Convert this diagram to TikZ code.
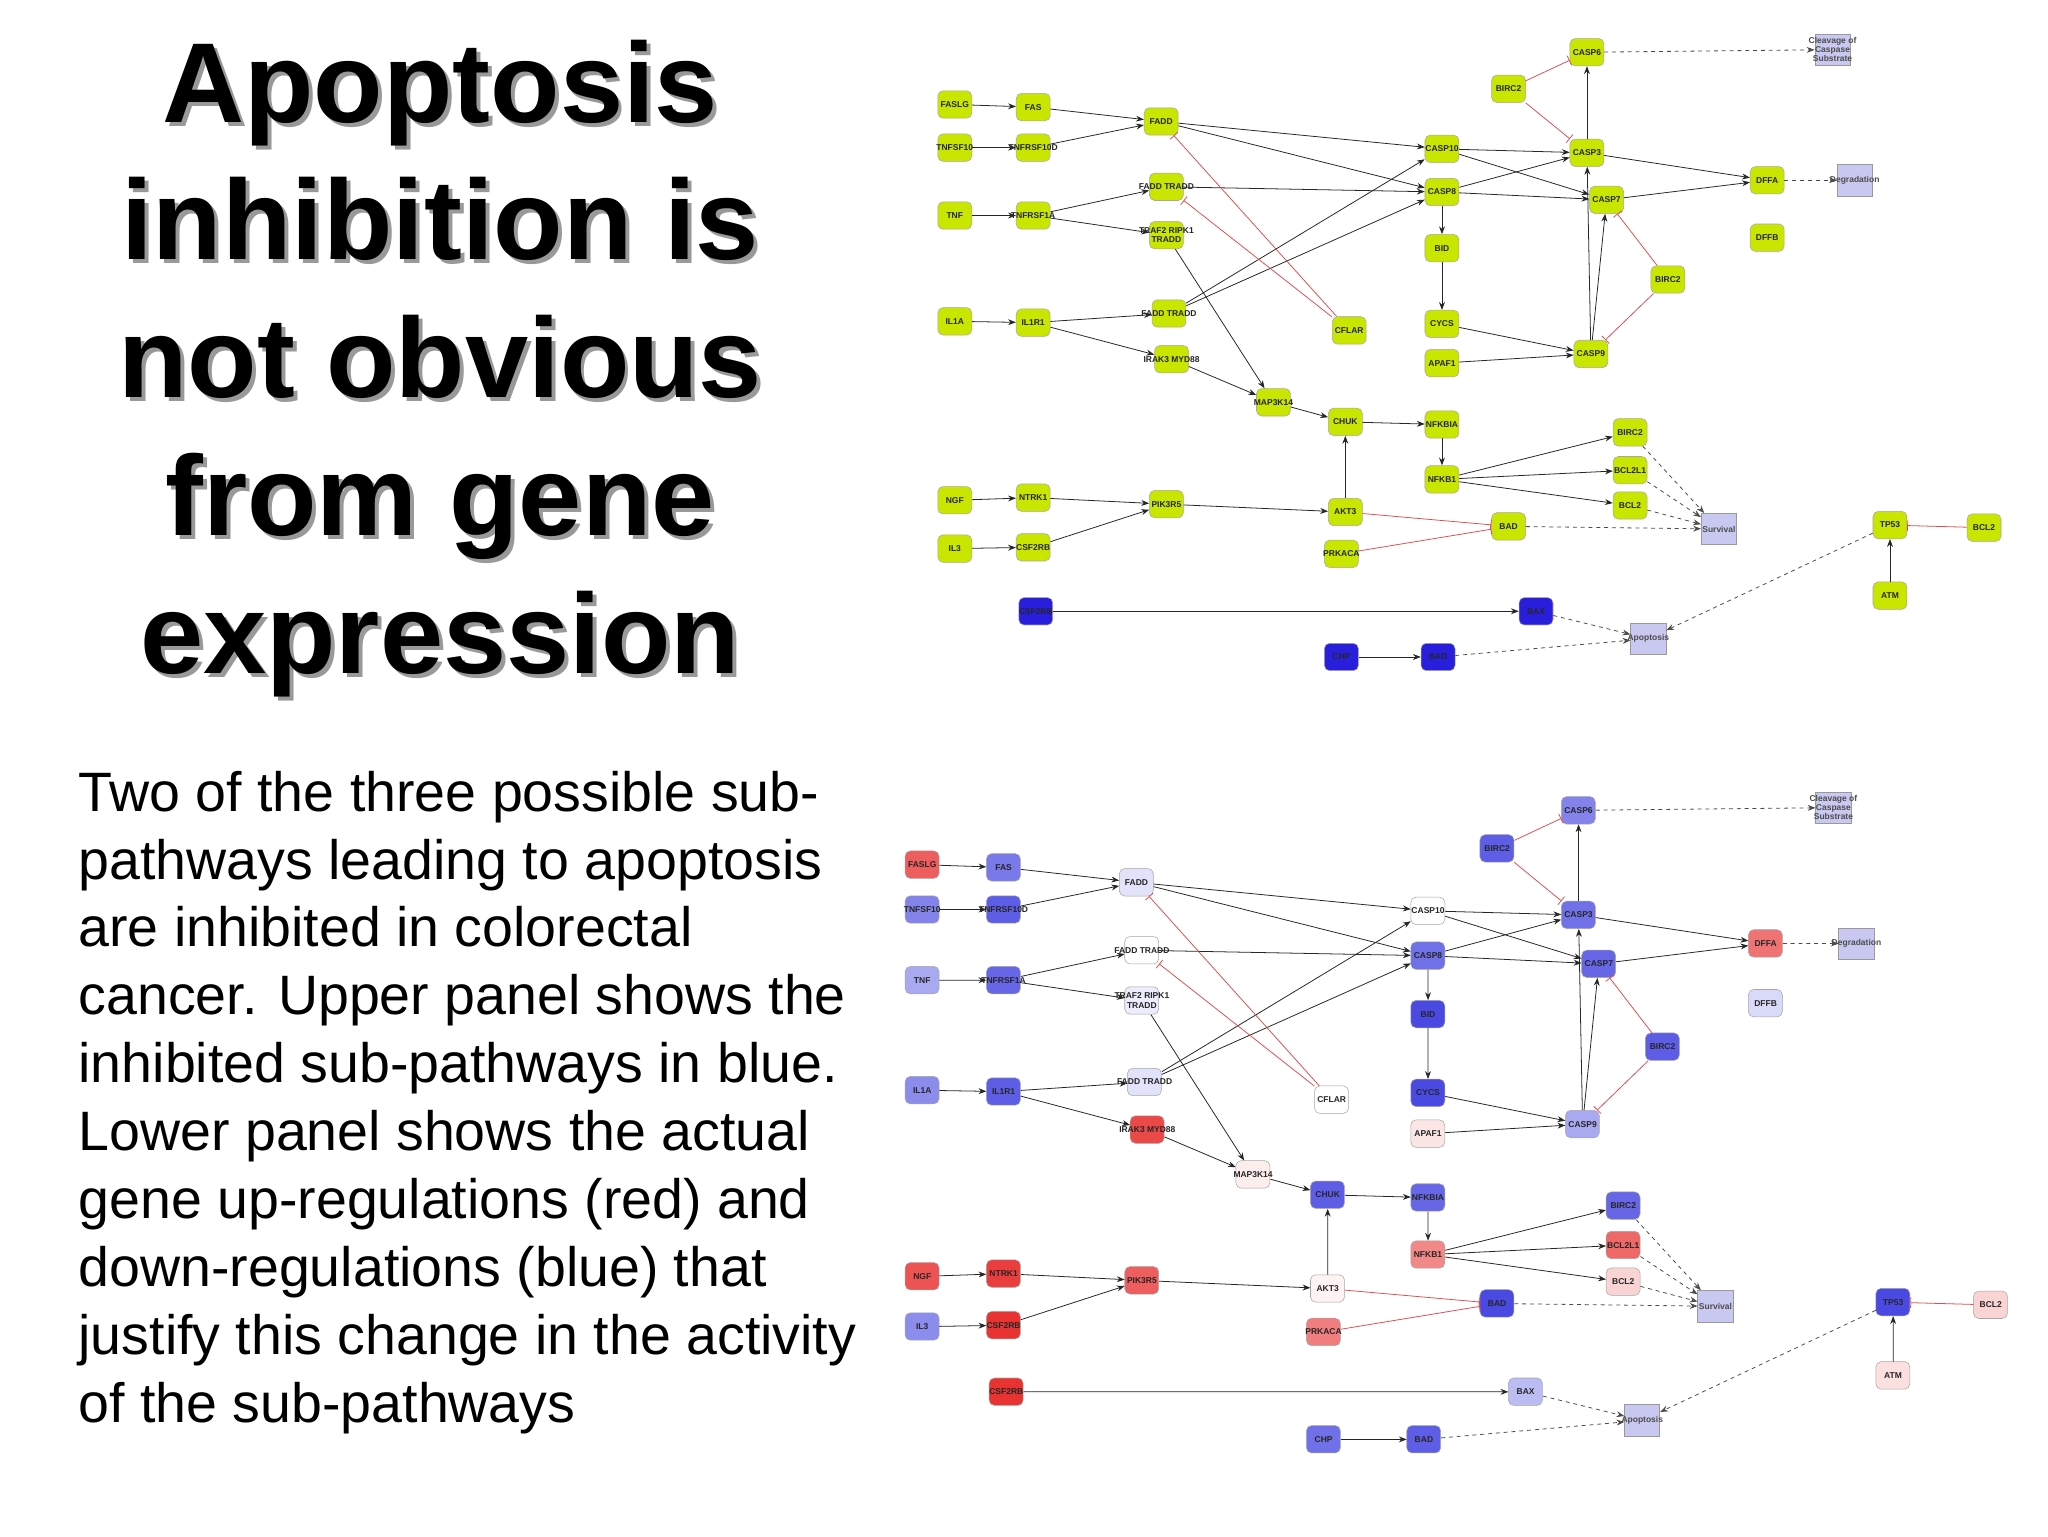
\documentclass[tikz,border=0pt]{standalone}
\usepackage{fontspec}
\setmainfont{Liberation Sans}
\usetikzlibrary{arrows.meta}
\definecolor{yg}{RGB}{200,230,0}
\definecolor{bb}{RGB}{40,30,220}
\definecolor{bl}{RGB}{64,64,224}
\definecolor{rd}{RGB}{232,40,40}
\definecolor{sq}{RGB}{200,200,240}
\definecolor{inhc}{RGB}{220,80,80}
\newif\ifbot
\newcommand\N[6]{\ifbot\def\cc{#6}\else\def\cc{#5}\fi\node[nd,fill=\cc,label={[lab]center:#4}] (#1) at (#2,#3) {};}
\newcommand\Q[4]{\node[sqn,label={[lab,text=black!70]center:#4}] (#1) at (#2,#3) {};}
\newcommand\net{%
\N{FASLG}{731}{80}{FASLG}{yg}{rd!75}
\N{FAS}{791}{82}{FAS}{yg}{bl!70}
\N{TNFSF}{731}{113}{TNFSF10}{yg}{bl!65}
\N{TNFR10}{791}{113}{TNFRSF10D}{yg}{bl!85}
\N{TNF}{731}{165}{TNF}{yg}{bl!45}
\N{TNFR1A}{791}{165}{TNFRSF1A}{yg}{bl!80}
\N{IL1A}{731}{246}{IL1A}{yg}{bl!60}
\N{IL1R1}{791}{247}{IL1R1}{yg}{bl!85}
\N{NGF}{731}{383}{NGF}{yg}{rd!80}
\N{NTRK1}{791}{381}{NTRK1}{yg}{rd!90}
\N{IL3}{731}{420}{IL3}{yg}{bl!60}
\N{CSF}{791}{419}{CSF2RB}{yg}{rd!95}
\N{FADD}{889}{93}{FADD}{yg}{bl!15}
\N{FT1}{893}{143}{FADD TRADD}{yg}{white}
\N{TRAF}{893}{180}{TRAF2 RIPK1\\TRADD}{yg}{bl!10}
\N{FT2}{895}{240}{FADD TRADD}{yg}{bl!15}
\N{IRAK}{897}{275}{IRAK3 MYD88}{yg}{rd!85}
\N{MAP}{975}{308}{MAP3K14}{yg}{rd!8}
\N{CHUK}{1030}{323}{CHUK}{yg}{bl!85}
\N{NFKBIA}{1104}{325}{NFKBIA}{yg}{bl!80}
\N{NFKB1}{1104}{367}{NFKB1}{yg}{rd!55}
\N{AKT3}{1030}{392}{AKT3}{yg}{rd!6}
\N{PRKACA}{1027}{424}{PRKACA}{yg}{rd!60}
\N{PIK}{893}{386}{PIK3R5}{yg}{rd!75}
\N{BAD}{1155}{403}{BAD}{yg}{bl!95}
\N{BIRCa}{1248}{331}{BIRC2}{yg}{bl!80}
\N{BCLX}{1248}{360}{BCL2L1}{yg}{rd!70}
\N{BCLa}{1248}{387}{BCL2}{yg}{rd!20}
\N{C10}{1104}{114}{CASP10}{yg}{white}
\N{C8}{1104}{147}{CASP8}{yg}{bl!75}
\N{BID}{1104}{190}{BID}{yg}{bl!95}
\N{CYCS}{1104}{248}{CYCS}{yg}{bl!95}
\N{APAF}{1104}{278}{APAF1}{yg}{rd!12}
\N{CFLAR}{1033}{253}{CFLAR}{yg}{white}
\N{C3}{1215}{117}{CASP3}{yg}{bl!75}
\N{C6}{1215}{40}{CASP6}{yg}{bl!65}
\N{BIRCb}{1155}{68}{BIRC2}{yg}{bl!85}
\N{C7}{1230}{153}{CASP7}{yg}{bl!80}
\N{C9}{1218}{271}{CASP9}{yg}{bl!45}
\N{BIRCc}{1277}{214}{BIRC2}{yg}{bl!85}
\N{DFFA}{1353}{138}{DFFA}{yg}{rd!65}
\N{DFFB}{1353}{182}{DFFB}{yg}{bl!20}
\N{TP53}{1447}{402}{TP53}{yg}{bl!95}
\N{BCLb}{1519}{404}{BCL2}{yg}{rd!20}
\N{ATM}{1447}{456}{ATM}{yg}{rd!15}
\N{CSFb}{793}{468}{CSF2RB}{bb}{rd!95}
\N{BAX}{1176}{468}{BAX}{bb}{bl!35}
\N{CHP}{1027}{503}{CHP}{bb}{bl!75}
\N{BADb}{1101}{503}{BAD}{bb}{bl!85}
\Q{DEG}{1420}{138}{Degradation}
\Q{SURV}{1316}{405}{Survival}
\Q{APOP}{1262}{489}{Apoptosis}
\Q{CLV}{1403}{38}{Cleavage of\\Caspase\\Substrate}
\foreach \a/\b in {FASLG/FAS,TNFSF/TNFR10,TNF/TNFR1A,IL1A/IL1R1,NGF/NTRK1,IL3/CSF,
 FAS/FADD,TNFR10/FADD,TNFR1A/FT1,TNFR1A/TRAF,IL1R1/FT2,IL1R1/IRAK,NTRK1/PIK,CSF/PIK,
 FADD/C10,FADD/C8,FT1/C8,FT2/C10,FT2/C8,TRAF/MAP,IRAK/MAP,MAP/CHUK,CHUK/NFKBIA,NFKBIA/NFKB1,
 NFKB1/BIRCa,NFKB1/BCLX,NFKB1/BCLa,PIK/AKT3,AKT3/CHUK,C10/C3,C10/C7,C8/C3,C8/C7,C8/BID,BID/CYCS,
 CYCS/C9,APAF/C9,C9/C3,C9/C7,C3/C6,C3/DFFA,C7/DFFA,ATM/TP53,CSFb/BAX,CHP/BADb}
 {\draw[ar] (\a) -- (\b);}
\foreach \a/\b in {AKT3/BAD,PRKACA/BAD,CFLAR/FADD,CFLAR/FT1,BIRCb/C6,BIRCb/C3,BIRCc/C7,BIRCc/C9,BCLb/TP53}
 {\draw[inh] (\a) -- (\b);}
\foreach \a/\b in {BAD/SURV,BIRCa/SURV,BCLX/SURV,BCLa/SURV,DFFA/DEG,C6/CLV,TP53/APOP,BAX/APOP,BADb/APOP}
 {\draw[da] (\a) -- (\b);}
}
\begin{document}
\begin{tikzpicture}[x=1pt,y=-1pt,
 nd/.style={rounded corners=4pt,minimum width=26pt,minimum height=21pt,inner sep=0pt,draw=black!35,line width=0.4pt},
 lab/.style={font=\fontsize{6.5}{7}\selectfont\bfseries,text=black!85,align=center,inner sep=0pt},
 sqn/.style={minimum width=27pt,minimum height=24pt,inner sep=0pt,fill=sq,draw=black!40,line width=0.4pt},
 ar/.style={-{Stealth[length=6pt,width=4.5pt]},line width=0.6pt,black!85},
 inh/.style={-{Bar[width=8pt]},line width=0.6pt,inhc},
 da/.style={-{Stealth[length=6pt,width=4.5pt]},line width=0.6pt,dashed,black!70}]
\useasboundingbox (0,0) rectangle (1568,1176);
\fill[white] (0,0) rectangle (1568,1176);
\node[text=black!40,align=center,font=\fontsize{87}{105.5}\selectfont\bfseries] at (340,285)
 {Apoptosis\\inhibition is\\not obvious\\from gene\\expression};
\node (title) [align=center,font=\fontsize{87}{105.5}\selectfont\bfseries] at (337,282)
 {Apoptosis\\inhibition is\\not obvious\\from gene\\expression};
\node (body) [anchor=north west,align=left,inner sep=0pt,font=\fontsize{42.5}{52}\selectfont] at (60,590)
 {Two of the three possible sub-\\pathways leading to apoptosis\\are inhibited in colorectal\\cancer. Upper panel shows the\\inhibited sub-pathways in blue.\\Lower panel shows the actual\\gene up-regulations (red) and\\down-regulations (blue) that\\justify this change in the activity\\of the sub-pathways};
\begin{scope}[name prefix=t-]
\botfalse\net
\end{scope}
\begin{scope}[name prefix=b-,shift={(-52.8,578.8)},xscale=1.038,yscale=1.04]
\bottrue\net
\end{scope}
\end{tikzpicture}
\end{document}
